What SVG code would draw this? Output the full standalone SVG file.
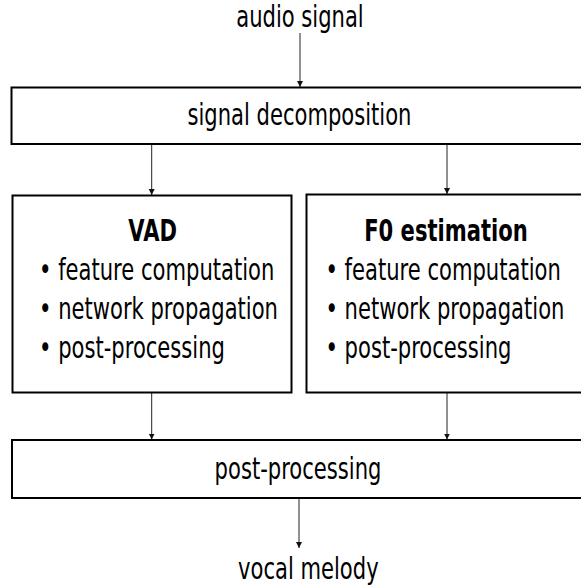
<svg xmlns="http://www.w3.org/2000/svg" width="581" height="587" viewBox="0 0 581 587">
  <defs>
    <style>
      .box { fill: #fff; stroke: #000; stroke-width: 2; }
      .t { font-family: "DejaVu Sans", sans-serif; font-size: 30px; fill: #000; }
      .c { text-anchor: middle; }
      .b { font-weight: bold; }
      .edge { stroke: #222; stroke-width: 1; fill: none; marker-end: url(#arr); }
    </style>
    <marker id="arr" markerUnits="userSpaceOnUse" markerWidth="6" markerHeight="7" refX="6" refY="3" orient="auto">
      <path d="M0,0 L6,3 L0,6 Z" fill="#111"/>
    </marker>
  </defs>
  <rect width="581" height="587" fill="#fff"/>

  <g id="connectors">
    <line class="edge" x1="300" y1="33" x2="300" y2="87"/>
    <line class="edge" x1="151.7" y1="144.5" x2="151.7" y2="195"/>
    <line class="edge" x1="447" y1="144.5" x2="447" y2="194"/>
    <line class="edge" x1="151.7" y1="393" x2="151.7" y2="439.5"/>
    <line class="edge" x1="447" y1="393" x2="447" y2="439.5"/>
    <line class="edge" x1="299" y1="498.5" x2="299" y2="548"/>
  </g>

  <g id="audio-signal">
    <text class="t c" transform="scale(0.703 1)" x="426.7" y="26.5">audio signal</text>
  </g>

  <g id="signal-decomposition">
    <rect class="box" x="11.5" y="87.5" width="580" height="56.5"/>
    <text class="t c" transform="scale(0.703 1)" x="426" y="125">signal decomposition</text>
  </g>

  <g id="vad">
    <rect class="box" x="12.5" y="195.5" width="279" height="197"/>
    <g transform="scale(0.703 1)">
      <text class="t c b" x="217.2" y="241">VAD</text>
      <text class="t" x="55.5" y="280.5">• feature computation</text>
      <text class="t" x="55.5" y="319.3">• network propagation</text>
      <text class="t" x="55.5" y="358">• post-processing</text>
    </g>
  </g>

  <g id="f0-estimation">
    <rect class="box" x="306.5" y="194.5" width="285" height="198"/>
    <g transform="scale(0.703 1)">
      <text class="t c b" x="634.4" y="241">F0 estimation</text>
      <text class="t" x="463" y="280.5">• feature computation</text>
      <text class="t" x="463" y="319.3">• network propagation</text>
      <text class="t" x="463" y="358">• post-processing</text>
    </g>
  </g>

  <g id="post-processing">
    <rect class="box" x="12" y="440" width="580" height="58"/>
    <text class="t c" transform="scale(0.703 1)" x="423.9" y="479.5">post-processing</text>
  </g>

  <g id="vocal-melody">
    <text class="t c" transform="scale(0.703 1)" x="438.6" y="579">vocal melody</text>
  </g>
</svg>
